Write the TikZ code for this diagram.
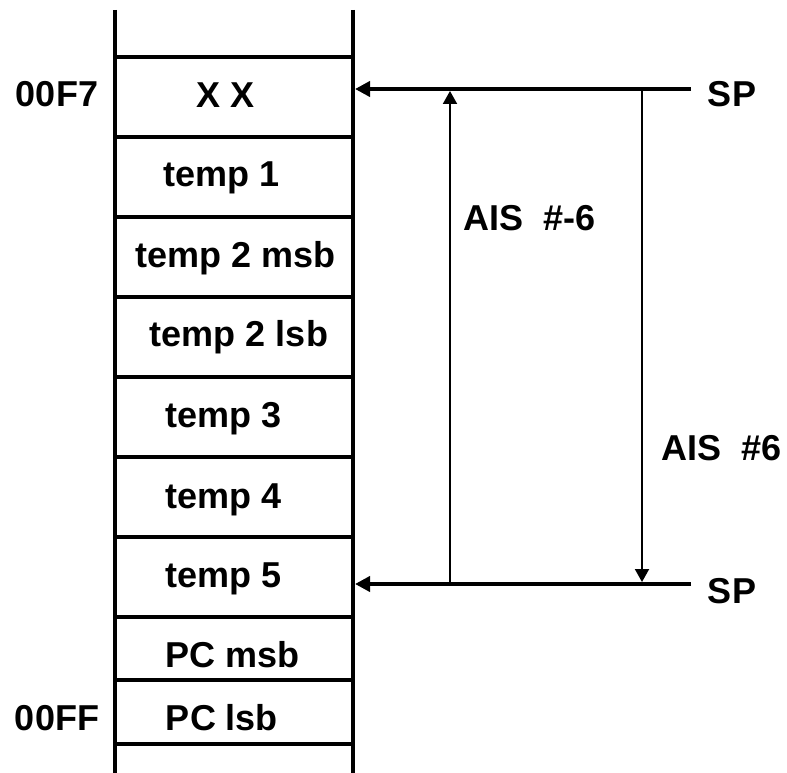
\documentclass[tikz,border=0pt]{standalone}
\usepackage{fontspec}
\setmainfont{Liberation Sans}
\usetikzlibrary{arrows.meta}
\begin{document}
\begin{tikzpicture}[x=1pt,y=-1pt,
  lbl/.style={font=\fontsize{36}{40}\selectfont\bfseries, inner sep=0pt, anchor=base},
  frame/.style={line width=4.3pt},
  bigarrow/.style={line width=4pt, -{Triangle[length=15pt,width=15pt]}},
  thinarrow/.style={line width=2pt, -{Triangle[length=13pt,width=14pt]}}]
\useasboundingbox (0,0) rectangle (787,773);
% frame
\draw[frame] (115,10) -- (115,773);
\draw[frame] (353,10) -- (353,773);
\foreach \yy in {57,137,217,297,377,457,537,617,680,744}
  \draw[frame] (113,\yy) -- (355,\yy);
% cell texts
\node[lbl] (t0) at (226,108) {X X};
\node[lbl] (t1) at (222,186) {temp 1};
\node[lbl] (t2) at (236,267) {temp 2 msb};
\node[lbl] (t3) at (239,346) {temp 2 lsb};
\node[lbl] (t4) at (224,427) {temp 3};
\node[lbl] (t5) at (224,508) {temp 4};
\node[lbl] (t6) at (224,587) {temp 5};
\node[lbl] (t7) at (233,667) {PC msb};
\node[lbl] (t8) at (222,730) {PC lsb};
% addresses
\node[lbl] (a0) at (57,107) {00F7};
\node[lbl] (a1) at (57,730) {00FF};
% SP labels
\node[lbl] (sp1) at (732,107) {SP};
\node[lbl] (sp2) at (732,603) {SP};
\node[lbl] (ais1) at (530,230) {AIS\ \ \#-6};
\node[lbl] (ais2) at (722,460) {AIS\ \ \#6};
% coordinates
\coordinate (s1end) at (691,89);
\coordinate (s1tip) at (355,89);
\coordinate (s2end) at (691,584);
\coordinate (s2tip) at (355,584);
\coordinate (upbot) at (450,584);
\coordinate (uptop) at (450,91);
\coordinate (dntop) at (642,89);
\coordinate (dnbot) at (642,582);
% arrows
\draw[bigarrow] (s1end) -- (s1tip);
\draw[bigarrow] (s2end) -- (s2tip);
\draw[thinarrow] (upbot) -- (uptop);
\draw[thinarrow] (dntop) -- (dnbot);
\end{tikzpicture}
\end{document}
